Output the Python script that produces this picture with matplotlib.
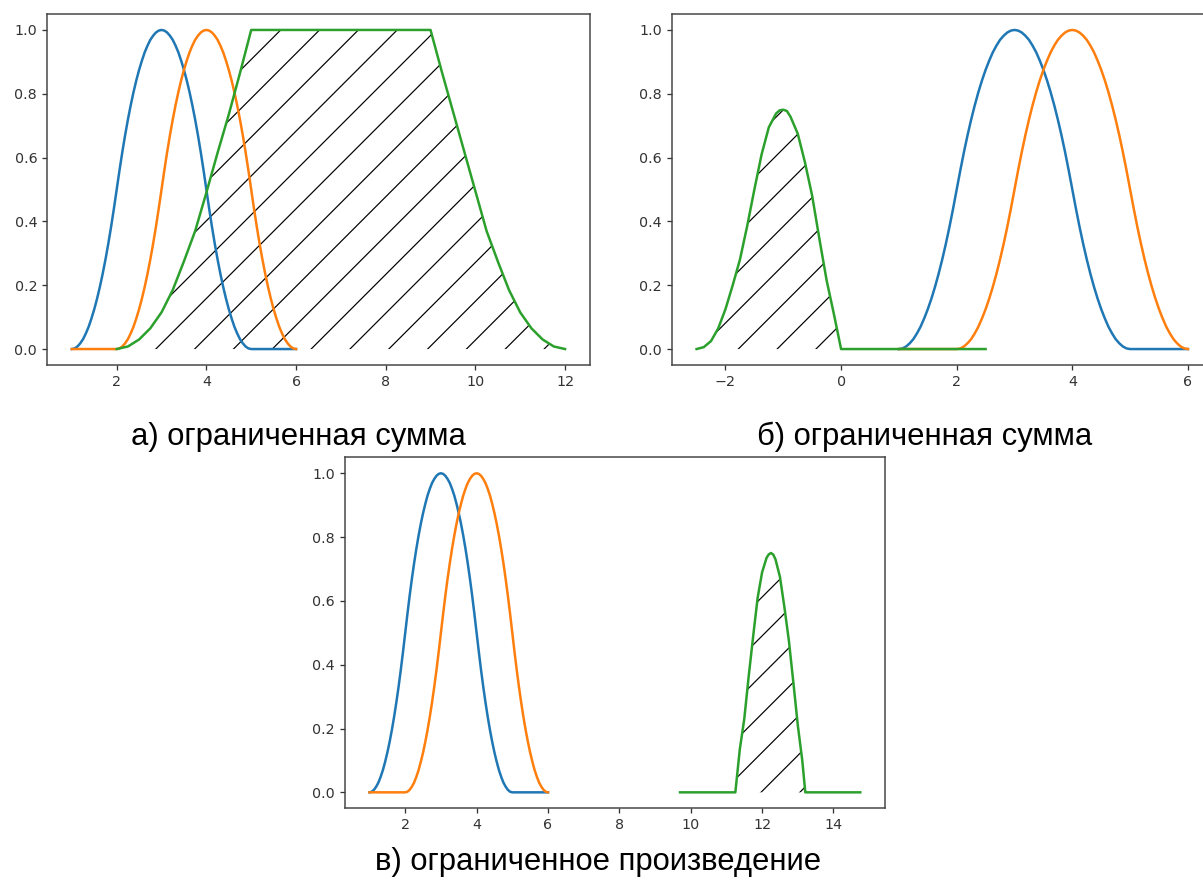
import matplotlib
matplotlib.use('Agg')
import matplotlib.pyplot as plt

# ---------------- data ----------------
# sample positions of A (blue) and B (orange) on [1, 6], step 1/16
x_ab = [1.0, 1.0625, 1.125, 1.1875, 1.25, 1.3125, 1.375, 1.4375, 1.5, 1.5625, 1.625,
        1.6875, 1.75, 1.8125, 1.875, 1.9375, 2.0, 2.0625, 2.125, 2.1875, 2.25, 2.3125,
        2.375, 2.4375, 2.5, 2.5625, 2.625, 2.6875, 2.75, 2.8125, 2.875, 2.9375, 3.0,
        3.0625, 3.125, 3.1875, 3.25, 3.3125, 3.375, 3.4375, 3.5, 3.5625, 3.625, 3.6875,
        3.75, 3.8125, 3.875, 3.9375, 4.0, 4.0625, 4.125, 4.1875, 4.25, 4.3125, 4.375,
        4.4375, 4.5, 4.5625, 4.625, 4.6875, 4.75, 4.8125, 4.875, 4.9375, 5.0, 5.0625,
        5.125, 5.1875, 5.25, 5.3125, 5.375, 5.4375, 5.5, 5.5625, 5.625, 5.6875, 5.75,
        5.8125, 5.875, 5.9375, 6.0]
# the bell shape (width 4, peak 1) shared by A and B
bell = [0.0, 0.002, 0.008, 0.018, 0.031, 0.049, 0.070, 0.096, 0.125, 0.158, 0.195,
        0.236, 0.281, 0.330, 0.383, 0.440, 0.5, 0.560, 0.617, 0.670, 0.719, 0.764,
        0.805, 0.842, 0.875, 0.904, 0.930, 0.951, 0.969, 0.982, 0.992, 0.998, 1.0,
        0.998, 0.992, 0.982, 0.969, 0.951, 0.930, 0.904, 0.875, 0.842, 0.805, 0.764,
        0.719, 0.670, 0.617, 0.560, 0.5, 0.440, 0.383, 0.330, 0.281, 0.236, 0.195,
        0.158, 0.125, 0.096, 0.070, 0.049, 0.031, 0.018, 0.008, 0.002, 0.0]
zeros_1 = [0.0] * 16          # one unit of zero membership
mu_a = bell + zeros_1         # A: support [1, 5], peak at 3
mu_b = zeros_1 + bell         # B: support [2, 6], peak at 4

# (а) bounded sum result (green)
x_sum_a = [2.0, 2.25, 2.5, 2.75, 3.0, 3.25, 3.5, 3.75, 4.0, 4.25, 4.5, 4.75, 5.0,
           9.0, 9.25, 9.5, 9.75, 10.0, 10.25, 10.5, 10.75, 11.0, 11.25, 11.5, 11.75, 12.0]
mu_sum_a = [0.0, 0.008, 0.03, 0.065, 0.115, 0.185, 0.275, 0.37, 0.49, 0.615, 0.735, 0.865, 1.0,
            1.0, 0.87, 0.745, 0.62, 0.495, 0.37, 0.275, 0.185, 0.115, 0.065, 0.03, 0.008, 0.0]

# (б) bounded sum result (green)
x_sum_b = [-2.5, -2.375, -2.25, -2.125, -2.0, -1.875, -1.75, -1.625, -1.5, -1.375,
           -1.25, -1.125, -1.0625, -1.0, -0.9375, -0.875, -0.75, -0.625, -0.5, -0.375,
           -0.25, -0.125, 0.0, 2.5]
mu_sum_b = [0.0, 0.006, 0.025, 0.065, 0.125, 0.2, 0.28, 0.385, 0.5, 0.61,
            0.695, 0.738, 0.748, 0.75, 0.746, 0.728, 0.675, 0.585, 0.48, 0.345,
            0.215, 0.11, 0.0, 0.0]

# (в) bounded product result (green)
x_prod = [9.7, 11.25, 11.375, 11.5, 11.625, 11.75, 11.875, 12.0, 12.125, 12.1875, 12.25,
          12.3125, 12.375, 12.5, 12.625, 12.75, 12.875, 13.0, 13.125, 13.21, 14.75]
mu_prod = [0.0, 0.0, 0.135, 0.23, 0.365, 0.49, 0.61, 0.69, 0.735, 0.746, 0.75,
           0.745, 0.73, 0.675, 0.58, 0.475, 0.345, 0.21, 0.10, 0.0, 0.0]

captions = ["а) ограниченная сумма", "б) ограниченная сумма", "в) ограниченное произведение"]

# ---------------- styling ----------------
DPI = 233
W, H = 1203, 893


def pt(px):
    return px * 72.0 / DPI


plt.rcParams.update({
    'font.family': ['DejaVu Sans'],
    'xtick.labelsize': pt(14.3),
    'ytick.labelsize': pt(14.3),
    'axes.linewidth': pt(1.5),
    'axes.edgecolor': '#444444',
    'xtick.major.size': pt(5),
    'ytick.major.size': pt(5),
    'xtick.major.width': pt(1.3),
    'ytick.major.width': pt(1.3),
    'xtick.major.pad': pt(5),
    'ytick.major.pad': pt(5),
    'xtick.color': '#333333',
    'ytick.color': '#333333',
    'lines.linewidth': pt(2.5),
    'hatch.linewidth': pt(1.2),
    'hatch.color': 'black',
})

BLUE, ORANGE, GREEN = '#1f77b4', '#ff7f0e', '#2ca02c'

fig = plt.figure(figsize=(W / DPI, H / DPI), dpi=DPI)


def ax_at(l, r, t, b):
    return fig.add_axes([l / W, 1 - b / H, (r - l) / W, (b - t) / H])


def draw(ax, xg, yg):
    ax.plot(x_ab, mu_a, color=BLUE)
    ax.plot(x_ab, mu_b, color=ORANGE)
    ax.plot(xg, yg, color=GREEN)
    ax.fill_between(xg, yg, 0, facecolor='none', edgecolor='black',
                    linewidth=0, hatch='//')
    ax.set_yticks([0.0, 0.2, 0.4, 0.6, 0.8, 1.0])


ax1 = ax_at(47.2, 589.7, 14, 365)
draw(ax1, x_sum_a, mu_sum_a)

ax2 = ax_at(672, 1212.5, 14, 365)
draw(ax2, x_sum_b, mu_sum_b)

ax3 = ax_at(345, 884.8, 457.3, 808.3)
draw(ax3, x_prod, mu_prod)

cap_font = dict(family=['Liberation Sans', 'DejaVu Sans'], fontsize=pt(31), color='black')
fig.text(298 / W, 1 - 445 / H, captions[0], ha='center', va='baseline', **cap_font)
fig.text(925 / W, 1 - 445 / H, captions[1], ha='center', va='baseline', **cap_font)
fig.text(598 / W, 1 - 870 / H, captions[2], ha='center', va='baseline', **cap_font)

fig.savefig('out.png', dpi=DPI)
